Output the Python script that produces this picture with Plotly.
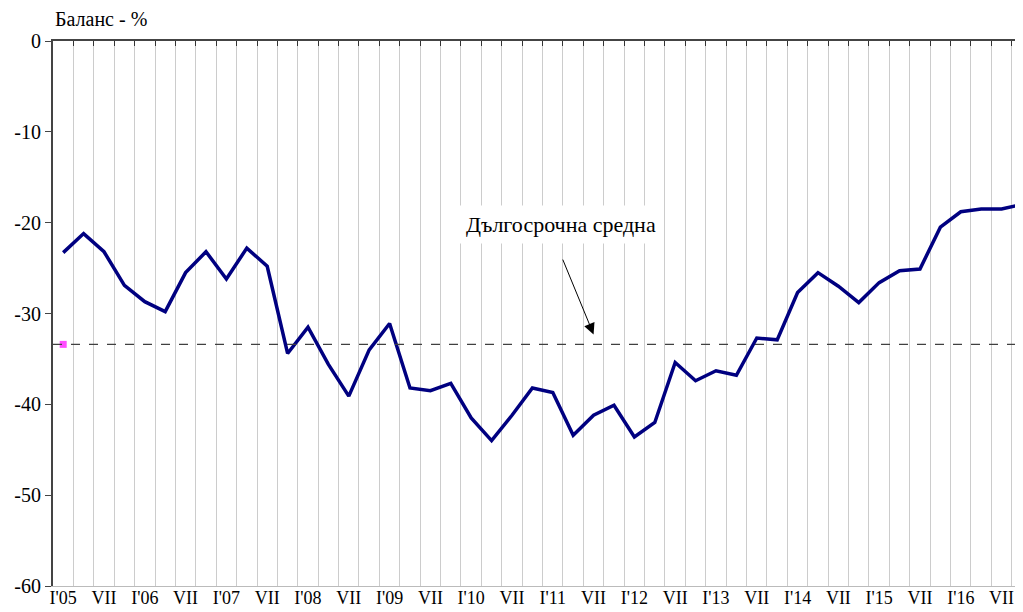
import plotly.graph_objects as go

# ---- data ----
YEARS = ["05", "06", "07", "08", "09", "10", "11", "12", "13", "14", "15", "16"]
QUARTER_MONTHS = ["I", "IV", "VII", "X"]
QUARTERS = [f"{q}'{y}" for y in YEARS for q in QUARTER_MONTHS]

BALANCE = [
    -23.3, -21.2, -23.2, -26.9, -28.7, -29.8, -25.5, -23.2,
    -26.2, -22.8, -24.8, -34.4, -31.5, -35.6, -39.1, -34.0,
    -31.1, -38.2, -38.5, -37.7, -41.5, -44.0, -41.2, -38.2,
    -38.7, -43.4, -41.2, -40.1, -43.6, -42.0, -35.4, -37.4,
    -36.3, -36.8, -32.7, -32.9, -27.7, -25.5, -27.0, -28.8,
    -26.6, -25.3, -25.1, -20.5, -18.8, -18.5, -18.5, -18.0,
]
LONG_TERM_AVG = -33.4

TICK_LABELS = [
    (f"I'{q.split(chr(39))[1]}" if q.startswith("I'") else ("VII" if q.startswith("VII'") else ""))
    for q in QUARTERS
]
Y_TICKS = [0, -10, -20, -30, -40, -50, -60]
Y_TICK_LABELS = ["0", "-10", "-20", "-30", "-40", "-50", "-60"]
Y_TITLE = "Баланс - %"
AVG_LABEL = "Дългосрочна средна"

FONT = "Liberation Serif"
XRANGE = [-0.5, 47.05]

fig = go.Figure()

fig.add_trace(go.Scatter(
    x=QUARTERS, y=BALANCE, mode="lines",
    line=dict(color="#000080", width=3.5),
    xaxis="x", yaxis="y", showlegend=False, hoverinfo="x+y",
))

# long-term average: marker on the first period only (line drawn as shape)
fig.add_trace(go.Scatter(
    x=QUARTERS, y=[LONG_TERM_AVG] * len(QUARTERS), mode="markers",
    marker=dict(symbol="square", color="#ff00ff",
                size=[7] + [0] * (len(QUARTERS) - 1), line=dict(width=0)),
    xaxis="x2", yaxis="y", showlegend=False, hoverinfo="skip",
))

fig.add_shape(type="line", xref="x domain", yref="y", x0=0, x1=1,
              y0=LONG_TERM_AVG, y1=LONG_TERM_AVG,
              line=dict(color="#404040", width=1.3, dash="dash"), layer="above")

fig.update_layout(
    width=1015, height=604,
    margin=dict(l=45, r=0, t=33, b=26, autoexpand=False),
    paper_bgcolor="white", plot_bgcolor="white",
    font=dict(family=FONT, size=18, color="black"),
    xaxis=dict(
        type="category", categoryorder="array", categoryarray=QUARTERS,
        range=XRANGE, tickmode="array", tickvals=QUARTERS, ticktext=TICK_LABELS,
        tickson="boundaries", ticks="", showgrid=True, gridcolor="#cccccc", gridwidth=1,
        showline=True, linecolor="#bbbbbb", linewidth=1,
        tickfont=dict(family=FONT, size=18, color="black"), tickangle=0, zeroline=False,
        automargin=False, ticklabelstandoff=-5,
    ),
    xaxis2=dict(
        type="category", categoryorder="array", categoryarray=QUARTERS,
        overlaying="x", side="top", range=XRANGE,
        tickmode="array", tickvals=QUARTERS, tickson="boundaries",
        ticks="inside", ticklen=5, tickcolor="#333333", tickwidth=1,
        showticklabels=False, showgrid=False,
        showline=True, linecolor="#444444", linewidth=1.5, zeroline=False,
        automargin=False,
    ),
    yaxis=dict(
        range=[-60, 0], tickmode="array", tickvals=Y_TICKS, ticktext=Y_TICK_LABELS,
        ticks="outside", ticklen=6, tickcolor="#444444",
        showline=True, linecolor="#444444", linewidth=2,
        showgrid=False, zeroline=False, automargin=False,
        tickfont=dict(family=FONT, size=20, color="black"),
    ),
)

fig.add_annotation(
    xref="paper", yref="paper", x=0.0, y=1.04, xanchor="left", yanchor="middle",
    text=Y_TITLE, showarrow=False, font=dict(family=FONT, size=20),
)

fig.add_annotation(
    xref="x", yref="y", x=24.4, y=-20.2, xanchor="center", yanchor="middle",
    text=AVG_LABEL, showarrow=False, bgcolor="white", borderpad=6,
    font=dict(family=FONT, size=22),
)

fig.add_annotation(
    xref="x", yref="y", axref="x", ayref="y",
    x=26.0, y=-32.3, ax=24.46, ay=-23.9, text="",
    showarrow=True, arrowhead=2, arrowsize=2.2, arrowwidth=1, arrowcolor="black",
)

fig.write_html("out.html")
